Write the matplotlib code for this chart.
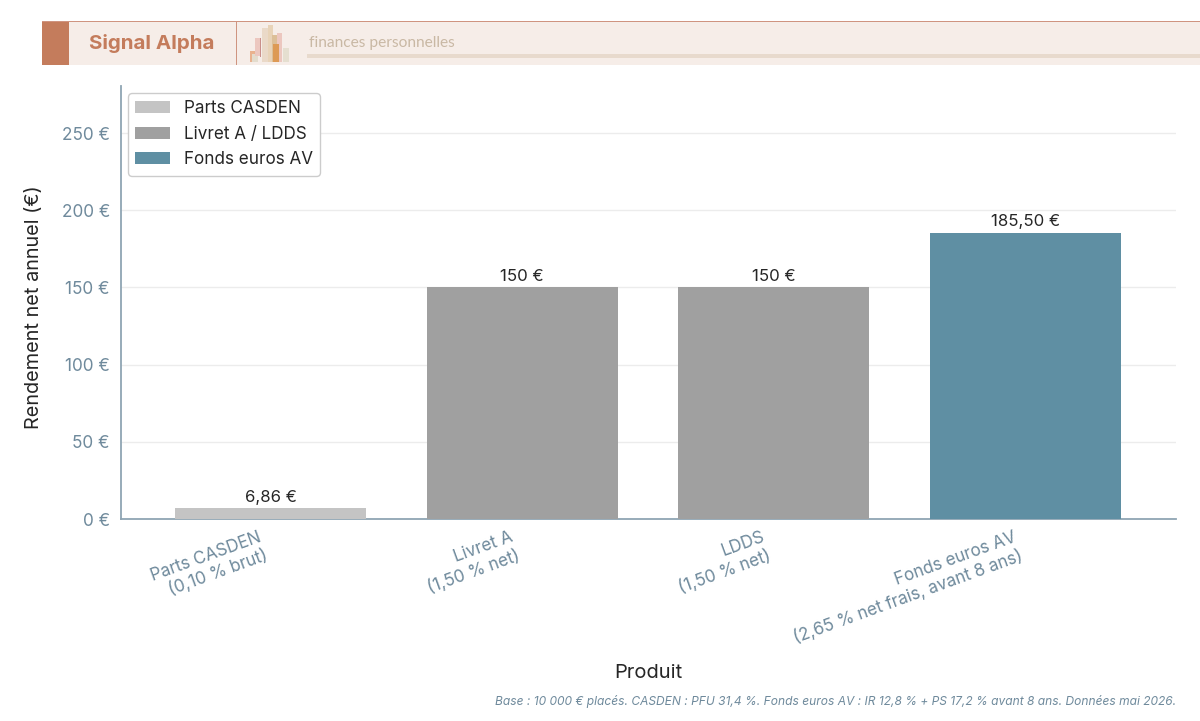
import matplotlib
matplotlib.use('Agg')
import matplotlib.pyplot as plt
from matplotlib.patches import Patch, Rectangle

plt.rcParams['font.family'] = ['Inter', 'DejaVu Sans']

# données
produits = ['Parts CASDEN\n(0,10 % brut)', 'Livret A\n(1,50 % net)', 'LDDS\n(1,50 % net)',
            'Fonds euros AV\n(2,65 % net frais, avant 8 ans)']
rendements = [6.86, 150, 150, 185.50]
etiquettes = ['6,86 €', '150 €', '150 €', '185,50 €']
couleurs = ['#c4c4c4', '#a0a0a0', '#a0a0a0', '#5f8fa3']
legende_noms = ['Parts CASDEN', 'Livret A / LDDS', 'Fonds euros AV']
legende_couleurs = ['#c4c4c4', '#a0a0a0', '#5f8fa3']
graduations = [0, 50, 100, 150, 200, 250]

W, H = 1200, 721
BLEU_GRIS = '#6f8a9c'
SPINE = '#8fa5b3'
TEXTE = '#262626'

fig = plt.figure(figsize=(W / 100, H / 100), dpi=100, facecolor='white')


def pixelAxes(left, top, right, bottom):
    return fig.add_axes([left / W, 1 - bottom / H, (right - left) / W, (bottom - top) / H])


# graphique
ax = pixelAxes(121, 86, 1176, 519)
ax.bar(range(len(rendements)), rendements, width=0.76, color=couleurs, zorder=3)
ax.set_xlim(-0.594, 3.598)
ax.set_ylim(0, 280.5)
ax.set_yticks(graduations)
ax.set_yticklabels([str(g) + ' €' for g in graduations], fontsize=12.4, color=BLEU_GRIS)
ax.set_xticks(range(len(produits)))
ax.set_xticklabels(produits, fontsize=12.25, color=BLEU_GRIS, rotation=20, ha='right', ma='right')
ax.tick_params(axis='y', length=0, pad=8)
ax.tick_params(axis='x', length=0, pad=7)
ax.grid(axis='y', color='#ececec', linewidth=1, zorder=0)
ax.spines['top'].set_visible(False)
ax.spines['right'].set_visible(False)
ax.spines['left'].set_color(SPINE)
ax.spines['bottom'].set_color(SPINE)
ax.spines['left'].set_linewidth(1.3)
ax.spines['bottom'].set_linewidth(1.3)
ax.set_ylabel('Rendement net annuel (€)', fontsize=14.3, color=TEXTE)
ax.yaxis.set_label_coords((43 - 121) / 1055, (519 - 307) / 433)

for i, v in enumerate(rendements):
    ax.annotate(etiquettes[i], (i, v), xytext=(0, 2.5), textcoords='offset points',
                ha='center', va='bottom', fontsize=12.1, color=TEXTE)

handles = [Patch(facecolor=c, label=n) for n, c in zip(legende_noms, legende_couleurs)]
ax.legend(handles=handles, loc='upper left', bbox_to_anchor=(0.0, 1.0), fontsize=12.3,
          labelcolor=TEXTE, frameon=True, framealpha=1, edgecolor='#cccccc', fancybox=True,
          borderpad=0.42, labelspacing=0.5, handlelength=2.05, handletextpad=0.78,
          borderaxespad=0.42).set_zorder(5)

fig.text(648 / W, 1 - 673 / H, 'Produit', fontsize=14.5, color=TEXTE, ha='center', va='center')
fig.text(1176 / W, 1 - 701 / H,
         'Base : 10 000 € placés. CASDEN : PFU 31,4 %. Fonds euros AV : IR 12,8 % + PS 17,2 % avant 8 ans. Données mai 2026.',
         fontsize=8.64, color=BLEU_GRIS, style='italic', ha='right', va='center')

# bandeau
band = fig.add_axes([0, 0, 1, 1], zorder=-1)
band.set_xlim(0, W)
band.set_ylim(H, 0)
band.axis('off')
band.add_patch(Rectangle((42, 22), 1158, 43, color='#f6ede8', lw=0))
band.add_patch(Rectangle((42, 21), 1158, 1.2, color='#cf9480', lw=0))
band.add_patch(Rectangle((42, 22), 27, 43, color='#c47c5c', lw=0))
band.add_patch(Rectangle((236, 22), 1, 43, color='#cf9480', lw=0))
band.add_patch(Rectangle((307, 53.5), 893, 4.5, color='#e8dacd', lw=0))
band.text(89, 43.5, 'Signal Alpha', fontsize=14.8, fontweight='bold', family='Inter',
          color='#c47c5c', va='center')
band.text(309, 43, 'finances personnelles', fontsize=11.15, family='Lato', color='#c9b8a4', va='center')

logo = [(250, 51, 7, 11, '#e9b28f'), (252, 54, 6, 8, '#e3dccd'), (255, 38, 6, 18, '#ecc7bf'),
        (259.5, 38, 1, 19, '#c98f8a'), (262, 28, 6, 34, '#ead9c8'), (268, 25, 5, 37, '#e8d3b8'),
        (272, 35, 5, 27, '#dcbf98'), (277, 33, 5, 29, '#ecc7bf'), (273, 44, 6, 18, '#dd9a55'),
        (283, 48, 6, 14, '#e5dfd0')]
for x, y, w, h, c in logo:
    band.add_patch(Rectangle((x, y), w, h, color=c, lw=0))

fig.savefig('out.png', dpi=100)
